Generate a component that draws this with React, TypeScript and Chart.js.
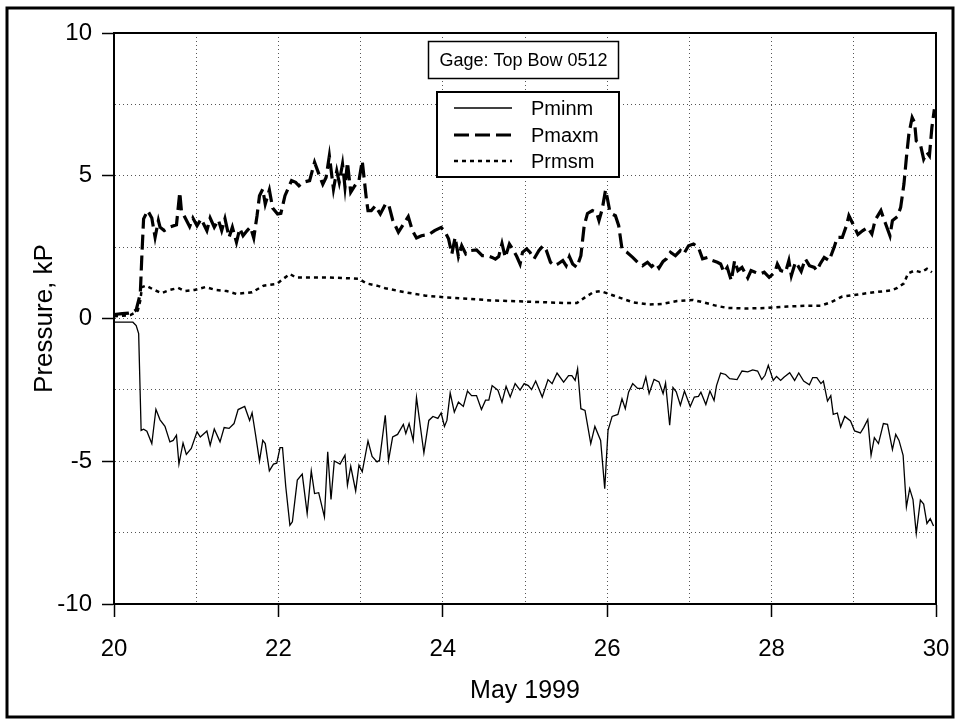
import React, { useEffect, useRef } from "react";
import { Chart, registerables } from "chart.js";

Chart.register(...registerables);

const FONT = "'Liberation Sans', Arial, Helvetica, sans-serif";

const seriesNames = ["Pminm", "Pmaxm", "Prmsm"];
const gageTitle = "Gage: Top Bow 0512";
const xAxisTitle = "May 1999";
const yAxisTitle = "Pressure, kP";
const xRange = [20, 30];
const yRange = [-10, 10];

const pminDays = [
  20.0, 20.23, 20.27, 20.3, 20.33, 20.36, 20.4, 20.46, 20.51, 20.56, 20.62, 20.68, 20.72, 20.76, 20.79, 20.84,
  20.88, 20.94, 21.01, 21.05, 21.13, 21.17, 21.22, 21.29, 21.34, 21.4, 21.46, 21.51, 21.59, 21.65, 21.68, 21.72,
  21.77, 21.81, 21.84, 21.89, 21.94, 21.98, 22.02, 22.05, 22.09, 22.14, 22.17, 22.23, 22.29, 22.35, 22.4, 22.44,
  22.49, 22.56, 22.6, 22.64, 22.68, 22.75, 22.81, 22.84, 22.88, 22.94, 22.98, 23.02, 23.09, 23.14, 23.2, 23.23,
  23.3, 23.34, 23.39, 23.45, 23.52, 23.55, 23.59, 23.64, 23.68, 23.77, 23.83, 23.88, 23.94, 23.98, 24.02, 24.05,
  24.09, 24.14, 24.19, 24.25, 24.3, 24.35, 24.41, 24.47, 24.52, 24.56, 24.6, 24.67, 24.72, 24.77, 24.82, 24.88,
  24.94, 24.99, 25.04, 25.08, 25.13, 25.21, 25.28, 25.33, 25.39, 25.47, 25.53, 25.57, 25.61, 25.64, 25.68, 25.73,
  25.8, 25.85, 25.92, 25.97, 26.01, 26.06, 26.13, 26.18, 26.22, 26.26, 26.31, 26.37, 26.43, 26.47, 26.51, 26.57,
  26.63, 26.68, 26.71, 26.76, 26.8, 26.84, 26.89, 26.94, 27.01, 27.06, 27.11, 27.14, 27.2, 27.25, 27.3, 27.33,
  27.38, 27.44, 27.49, 27.58, 27.64, 27.71, 27.77, 27.83, 27.88, 27.92, 27.96, 28.02, 28.06, 28.11, 28.15, 28.22,
  28.28, 28.33, 28.39, 28.46, 28.5, 28.55, 28.6, 28.63, 28.68, 28.72, 28.75, 28.8, 28.84, 28.89, 28.96, 29.01,
  29.08, 29.12, 29.17, 29.21, 29.25, 29.3, 29.36, 29.41, 29.47, 29.51, 29.55, 29.6, 29.64, 29.68, 29.72, 29.76,
  29.81, 29.85, 29.89, 29.93, 29.97,
];
const pminVals = [
  -0.13, -0.13, -0.25, -0.53, -3.92, -3.88, -3.95, -4.38, -3.18, -3.55, -3.78, -4.32, -4.27, -4.09, -5.1, -4.36,
  -4.76, -4.55, -3.97, -4.15, -3.94, -4.44, -3.87, -4.32, -3.82, -3.85, -3.68, -3.19, -3.08, -3.57, -3.3, -4.03,
  -4.99, -4.27, -4.38, -5.34, -5.1, -5.07, -4.52, -4.52, -5.9, -7.24, -7.12, -5.66, -5.45, -6.83, -5.34, -6.13,
  -6.1, -6.95, -4.67, -6.34, -4.99, -5.1, -4.79, -5.84, -5.18, -6.04, -5.14, -5.37, -4.29, -4.83, -5.02, -4.97,
  -3.39, -4.97, -4.15, -4.06, -3.71, -4.03, -3.68, -4.27, -2.77, -4.71, -3.57, -3.43, -3.5, -3.31, -3.78, -3.57,
  -2.61, -3.28, -2.93, -3.08, -2.54, -2.7, -2.7, -3.19, -2.86, -2.86, -2.35, -2.51, -2.93, -2.38, -2.75, -2.28,
  -2.51, -2.28, -2.35, -2.49, -2.19, -2.75, -2.14, -2.28, -1.91, -2.23, -2.0, -2.0, -2.17, -1.76, -3.16, -3.22,
  -4.38, -3.78, -4.27, -5.96, -3.92, -3.43, -3.36, -2.81, -3.16, -2.58, -2.28, -2.45, -2.45, -2.05, -2.63, -2.13,
  -2.22, -2.63, -2.26, -3.74, -2.42, -2.57, -3.04, -2.54, -3.08, -2.75, -2.73, -2.58, -3.01, -2.54, -2.87, -2.35,
  -1.91, -1.96, -2.11, -2.14, -1.84, -1.87, -1.8, -1.84, -2.14, -1.99, -1.64, -2.17, -2.03, -2.17, -2.06, -1.9,
  -2.17, -1.91, -2.19, -2.32, -2.07, -2.07, -2.28, -2.19, -2.89, -2.7, -3.36, -3.31, -3.8, -3.43, -3.59, -3.94,
  -4.01, -3.82, -3.54, -4.79, -4.17, -4.38, -3.68, -3.71, -4.59, -4.06, -4.27, -4.79, -6.6, -5.96, -6.34, -7.53,
  -6.36, -6.5, -7.18, -7.01, -7.27,
];

const pmaxDays = [
  20.0, 20.1, 20.18, 20.23, 20.27, 20.32, 20.34, 20.36, 20.41, 20.46, 20.5, 20.54, 20.56, 20.61, 20.68, 20.76,
  20.8, 20.82, 20.87, 20.92, 20.96, 21.01, 21.06, 21.13, 21.17, 21.22, 21.27, 21.31, 21.35, 21.4, 21.44, 21.49,
  21.53, 21.57, 21.62, 21.66, 21.7, 21.74, 21.77, 21.81, 21.84, 21.89, 21.93, 21.99, 22.03, 22.08, 22.16, 22.21,
  22.25, 22.3, 22.38, 22.44, 22.5, 22.54, 22.58, 22.62, 22.67, 22.71, 22.74, 22.78, 22.81, 22.84, 22.88, 22.93,
  22.98, 23.02, 23.07, 23.09, 23.13, 23.18, 23.24, 23.3, 23.34, 23.39, 23.46, 23.51, 23.58, 23.63, 23.68, 23.74,
  23.83, 23.9, 23.98, 24.03, 24.07, 24.11, 24.15, 24.19, 24.23, 24.28, 24.34, 24.41, 24.48, 24.54, 24.6, 24.64,
  24.68, 24.72, 24.76, 24.81, 24.86, 24.9, 24.94, 24.97, 25.02, 25.06, 25.11, 25.17, 25.22, 25.26, 25.31, 25.36,
  25.4, 25.46, 25.5, 25.54, 25.58, 25.63, 25.68, 25.72, 25.76, 25.82, 25.87, 25.9, 25.94, 25.98, 26.0, 26.03,
  26.06, 26.1, 26.14, 26.18, 26.24, 26.31, 26.37, 26.43, 26.49, 26.54, 26.59, 26.63, 26.68, 26.72, 26.77, 26.83,
  26.89, 26.93, 26.99, 27.05, 27.11, 27.16, 27.22, 27.28, 27.34, 27.38, 27.42, 27.46, 27.51, 27.55, 27.59, 27.64,
  27.71, 27.75, 27.8, 27.86, 27.91, 27.97, 28.04, 28.07, 28.11, 28.17, 28.21, 28.24, 28.29, 28.32, 28.36, 28.41,
  28.46, 28.52, 28.55, 28.59, 28.64, 28.7, 28.76, 28.8, 28.86, 28.91, 28.94, 28.99, 29.05, 29.11, 29.17, 29.22,
  29.26, 29.33, 29.38, 29.44, 29.47, 29.53, 29.57, 29.61, 29.64, 29.67, 29.71, 29.74, 29.76, 29.81, 29.85, 29.89,
  29.92, 29.95, 29.98,
];
const pmaxVals = [
  0.14, 0.17, 0.19, 0.22, 0.3, 0.87, 2.27, 3.49, 3.78, 3.52, 2.84, 3.43, 3.2, 3.08, 3.2, 3.28,
  4.42, 3.78, 3.5, 3.22, 3.52, 3.25, 3.49, 3.08, 3.52, 3.2, 3.45, 3.08, 3.5, 2.84, 3.2, 2.67,
  3.15, 2.9, 3.08, 3.2, 2.82, 3.6, 4.3, 4.53, 4.01, 4.5, 3.87, 3.66, 3.68, 4.3, 4.83, 4.77,
  4.65, 4.77, 4.83, 5.47, 5.0, 4.7, 4.94, 5.7, 4.53, 5.17, 4.77, 5.41, 4.6, 5.47, 4.42, 4.65,
  4.83, 5.52, 4.19, 3.78, 3.78, 3.95, 3.66, 3.99, 4.01, 3.45, 3.02, 3.25, 3.57, 3.08, 2.82, 2.9,
  2.94, 3.08, 3.19, 3.02, 2.79, 2.26, 2.84, 2.17, 2.55, 2.26, 2.38, 2.4, 2.2, 2.2, 2.14, 2.08,
  2.17, 2.63, 2.14, 2.61, 2.38, 2.17, 1.91, 2.32, 2.44, 2.32, 2.09, 2.38, 2.55, 2.38, 1.97, 1.85,
  1.91, 2.03, 1.85, 2.17, 1.91, 1.79, 2.2, 3.25, 3.68, 3.78, 3.72, 3.43, 3.84, 4.5, 4.24, 3.78,
  3.66, 3.6, 3.25, 2.44, 2.32, 2.14, 1.97, 1.85, 1.97, 1.82, 1.94, 1.77, 2.0, 2.09, 2.32, 2.2,
  2.38, 2.26, 2.55, 2.61, 2.49, 2.09, 2.14, 2.03, 1.97, 1.91, 1.62, 1.79, 1.33, 2.03, 1.68, 1.79,
  1.42, 1.68, 1.62, 1.56, 1.62, 1.44, 1.62, 1.91, 1.68, 1.62, 2.03, 1.5, 1.97, 1.85, 1.65, 2.09,
  1.85, 1.79, 1.68, 1.91, 2.14, 2.03, 2.49, 2.84, 2.84, 3.25, 3.6, 3.31, 2.94, 3.08, 3.19, 2.96,
  3.45, 3.78, 3.37, 2.9, 3.43, 3.57, 3.89, 4.71, 5.64, 6.46, 7.04, 6.86, 6.22, 6.1, 5.58, 5.82,
  5.7, 6.69, 7.33,
];

const prmsDays = [
  20.0, 20.1, 20.2, 20.25, 20.29, 20.32, 20.34, 20.39, 20.49, 20.58, 20.68, 20.78, 20.86, 20.98, 21.11, 21.24,
  21.37, 21.49, 21.68, 21.82, 21.98, 22.06, 22.14, 22.21, 22.38, 22.55, 22.77, 22.98, 23.07, 23.2, 23.3, 23.54,
  23.79, 24.03, 24.32, 24.6, 24.93, 25.25, 25.49, 25.63, 25.73, 25.83, 25.92, 26.02, 26.14, 26.31, 26.51, 26.67,
  26.85, 27.04, 27.18, 27.32, 27.46, 27.71, 27.95, 28.19, 28.44, 28.6, 28.72, 28.86, 29.05, 29.25, 29.45, 29.53,
  29.61, 29.66, 29.74, 29.82, 29.89, 29.95,
];
const prmsVals = [
  0.08, 0.1, 0.12, 0.2, 0.28, 0.63, 1.1, 1.15, 1.0, 0.89, 1.0, 1.07, 0.96, 1.0, 1.1, 1.0,
  0.96, 0.86, 0.92, 1.15, 1.21, 1.39, 1.56, 1.44, 1.44, 1.44, 1.42, 1.39, 1.23, 1.15, 1.06, 0.92,
  0.8, 0.74, 0.69, 0.63, 0.6, 0.57, 0.54, 0.54, 0.74, 0.92, 0.96, 0.86, 0.74, 0.57, 0.49, 0.51,
  0.61, 0.65, 0.56, 0.45, 0.37, 0.35, 0.37, 0.42, 0.45, 0.45, 0.57, 0.77, 0.84, 0.92, 0.98, 1.07,
  1.23, 1.58, 1.68, 1.62, 1.74, 1.62,
];

const lineDashes = [[], [15, 6], [4, 4]];
const lineWidths = [1.3, 3.2, 2.5];

const toPoints = (days: number[], vals: number[]) => days.map((d, i) => ({ x: d, y: vals[i] }));

const decorPlugin = {
  id: "decor",
  afterDraw(chart: any) {
    const { ctx, chartArea: a } = chart;
    ctx.save();
    // plot frame
    ctx.setLineDash([]);
    ctx.strokeStyle = "#000";
    ctx.lineWidth = 2;
    ctx.strokeRect(a.left, a.top, a.right - a.left, a.bottom - a.top);

    // gage title box
    ctx.fillStyle = "#fff";
    ctx.fillRect(428, 41, 191, 38);
    ctx.lineWidth = 1.5;
    ctx.strokeRect(428.5, 41.5, 190, 37);
    ctx.fillStyle = "#000";
    ctx.font = `18px ${FONT}`;
    ctx.textAlign = "center";
    ctx.textBaseline = "middle";
    ctx.fillText(gageTitle, 523.5, 61);

    // legend box
    ctx.fillStyle = "#fff";
    ctx.fillRect(436, 91, 183, 86);
    ctx.lineWidth = 2;
    ctx.strokeRect(437, 92, 182, 85);
    const rowsY = [108, 135, 161];
    ctx.font = `20px ${FONT}`;
    ctx.textAlign = "left";
    seriesNames.forEach((name, i) => {
      ctx.beginPath();
      ctx.setLineDash(lineDashes[i]);
      ctx.lineWidth = lineWidths[i];
      ctx.strokeStyle = "#000";
      ctx.moveTo(454, rowsY[i]);
      ctx.lineTo(512, rowsY[i]);
      ctx.stroke();
      ctx.setLineDash([]);
      ctx.fillStyle = "#000";
      ctx.fillText(name, 531, rowsY[i] + 1);
    });

    // outer border
    ctx.setLineDash([]);
    ctx.lineWidth = 3;
    ctx.strokeStyle = "#000";
    ctx.strokeRect(7, 8, 946, 709);
    ctx.restore();
  },
};

export default function App() {
  const ref = useRef<HTMLCanvasElement | null>(null);

  useEffect(() => {
    if (!ref.current) return;
    const series = [toPoints(pminDays, pminVals), toPoints(pmaxDays, pmaxVals), toPoints(prmsDays, prmsVals)];
    const chart = new Chart(ref.current, {
      type: "line",
      data: {
        datasets: seriesNames.map((name, i) => ({
          label: name,
          data: series[i],
          borderColor: "#000",
          backgroundColor: "#000",
          borderWidth: lineWidths[i],
          borderDash: lineDashes[i],
          pointRadius: 0,
          tension: 0,
          fill: false,
        })),
      },
      options: {
        animation: false,
        responsive: false,
        maintainAspectRatio: false,
        layout: { padding: { left: 0, right: 22, top: 33, bottom: 0 } },
        plugins: { legend: { display: false }, tooltip: { enabled: false } },
        scales: {
          x: {
            type: "linear",
            min: xRange[0],
            max: xRange[1],
            afterFit: (s: any) => {
              s.height = 117;
              s.paddingLeft = 0;
              s.paddingRight = 0;
            },
            ticks: {
              stepSize: 1,
              autoSkip: false,
              maxRotation: 0,
              color: "#000",
              padding: 18,
              font: { family: FONT, size: 24 },
              callback: (v: any) => (Number(v) % 2 === 0 ? String(v) : ""),
            },
            grid: {
              color: "#555",
              lineWidth: 1,
              drawTicks: true,
              tickLength: 13,
              tickWidth: 1.5,
              tickColor: (c: any) => (c.tick && Number(c.tick.value) % 2 === 0 ? "#000" : "rgba(0,0,0,0)"),
            },
            border: { display: true, color: "#000", width: 2, dash: [1, 3] },
            title: {
              display: true,
              text: xAxisTitle,
              color: "#000",
              font: { family: FONT, size: 25 },
              padding: { top: 0, bottom: 15 },
            },
          },
          y: {
            type: "linear",
            min: yRange[0],
            max: yRange[1],
            afterFit: (s: any) => {
              s.width = 114;
              s.paddingTop = 0;
              s.paddingBottom = 0;
            },
            ticks: {
              stepSize: 2.5,
              autoSkip: false,
              color: "#000",
              padding: 10,
              font: { family: FONT, size: 24 },
              callback: (v: any) => (Number(v) % 5 === 0 ? String(v) : ""),
            },
            grid: {
              color: "#555",
              lineWidth: 1,
              drawTicks: true,
              tickLength: 12,
              tickWidth: 1.5,
              tickColor: (c: any) => (c.tick && Number(c.tick.value) % 5 === 0 ? "#000" : "rgba(0,0,0,0)"),
            },
            border: { display: true, color: "#000", width: 2, dash: [1, 3] },
            title: {
              display: true,
              text: yAxisTitle,
              color: "#000",
              font: { family: FONT, size: 26 },
              padding: { top: 29, bottom: 0 },
            },
          },
        },
      },
      plugins: [decorPlugin],
    });
    return () => chart.destroy();
  }, []);

  return (
    <div style={{ position: "absolute", left: 0, top: 0, width: 958, height: 721, background: "#fff" }}>
      <canvas ref={ref} width={958} height={721} style={{ display: "block", width: 958, height: 721 }} />
    </div>
  );
}
